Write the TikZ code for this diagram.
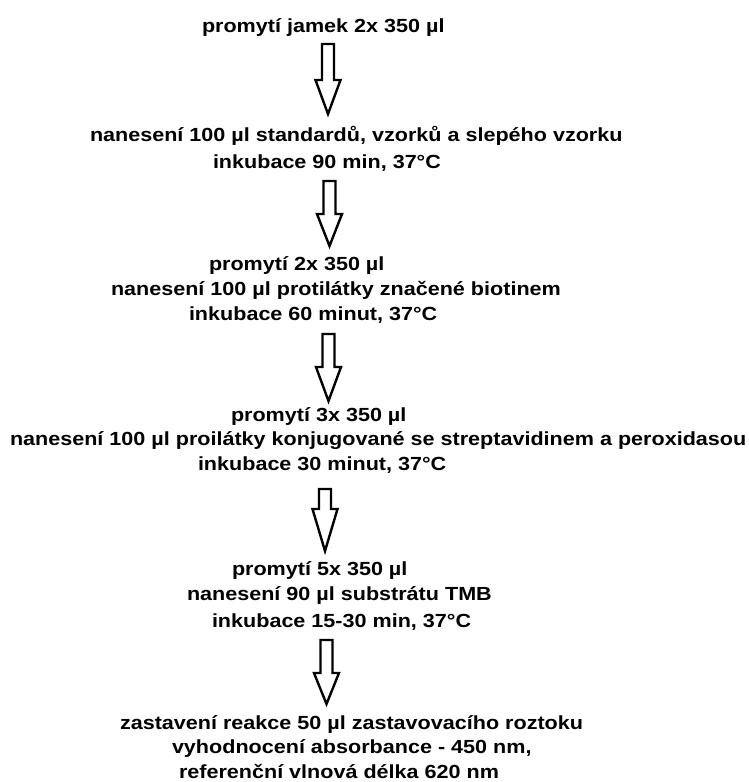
\documentclass[tikz,border=0pt]{standalone}
\usepackage{fontspec}
\usepackage{graphicx}
\setmainfont{Liberation Sans}
\newcommand{\steptext}[1]{\scalebox{1.135}[1]{\fontsize{19pt}{22pt}\selectfont\bfseries #1}}
\tikzset{
  lbl/.style={anchor=base west, inner sep=0pt, outer sep=0pt},
  arrowtip/.initial=70,
  % hollow block arrow pointing down; origin at the middle of the shaft top
  downarrow/.pic={
    \draw[line width=2.4pt, line join=miter, fill=white]
      (-6,0) -- (6,0) -- (6,#1) -- (12.5,#1) -- (0,\pgfkeysvalueof{/tikz/arrowtip})
      -- (-12.5,#1) -- (-6,#1) -- cycle;
  }
}
\begin{document}
\begin{tikzpicture}[x=1pt,y=-1pt]
\useasboundingbox (0,0) rectangle (748,782);

% text lines, one node per printed line
\node[lbl] (s1a) at (202,32)  {\steptext{promytí jamek 2x 350 µl}};

\node[lbl] (s2a) at (90,141)  {\steptext{nanesení 100 µl standardů, vzorků a slepého vzorku}};
\node[lbl] (s2b) at (213,168) {\steptext{inkubace 90 min, 37°C}};

\node[lbl] (s3a) at (209,270) {\steptext{promytí 2x 350 µl}};
\node[lbl] (s3b) at (111,295) {\steptext{nanesení 100 µl protilátky značené biotinem}};
\node[lbl] (s3c) at (189,320) {\steptext{inkubace 60 minut, 37°C}};

\node[lbl] (s4a) at (231,421) {\steptext{promytí 3x 350 µl}};
\node[lbl] (s4b) at (10,445)  {\steptext{nanesení 100 µl proilátky konjugované se streptavidinem a peroxidasou}};
\node[lbl] (s4c) at (198,470) {\steptext{inkubace 30 minut, 37°C}};

\node[lbl] (s5a) at (232,575) {\steptext{promytí 5x 350 µl}};
\node[lbl] (s5b) at (187,600) {\steptext{nanesení 90 µl substrátu TMB}};
\node[lbl] (s5c) at (212,627) {\steptext{inkubace 15-30 min, 37°C}};

\node[lbl] (s6a) at (120,729) {\steptext{zastavení reakce 50 µl zastavovacího roztoku}};
\node[lbl] (s6b) at (172,753) {\steptext{vyhodnocení absorbance - 450 nm,}};
\node[lbl] (s6c) at (179,778) {\steptext{referenční vlnová délka 620 nm}};

% block arrows between the steps
\coordinate (a1) at (328,44);
\coordinate (a2) at (329.5,181);
\coordinate (a3) at (328.5,334);
\coordinate (a4) at (325,489);
\coordinate (a5) at (326.5,640);

\pic[arrowtip=70] at (a1) {downarrow=36};
\pic[arrowtip=65] at (a2) {downarrow=33};
\pic[arrowtip=67] at (a3) {downarrow=33};
\pic[arrowtip=62] at (a4) {downarrow=20};
\pic[arrowtip=64] at (a5) {downarrow=33};
\end{tikzpicture}
\end{document}
